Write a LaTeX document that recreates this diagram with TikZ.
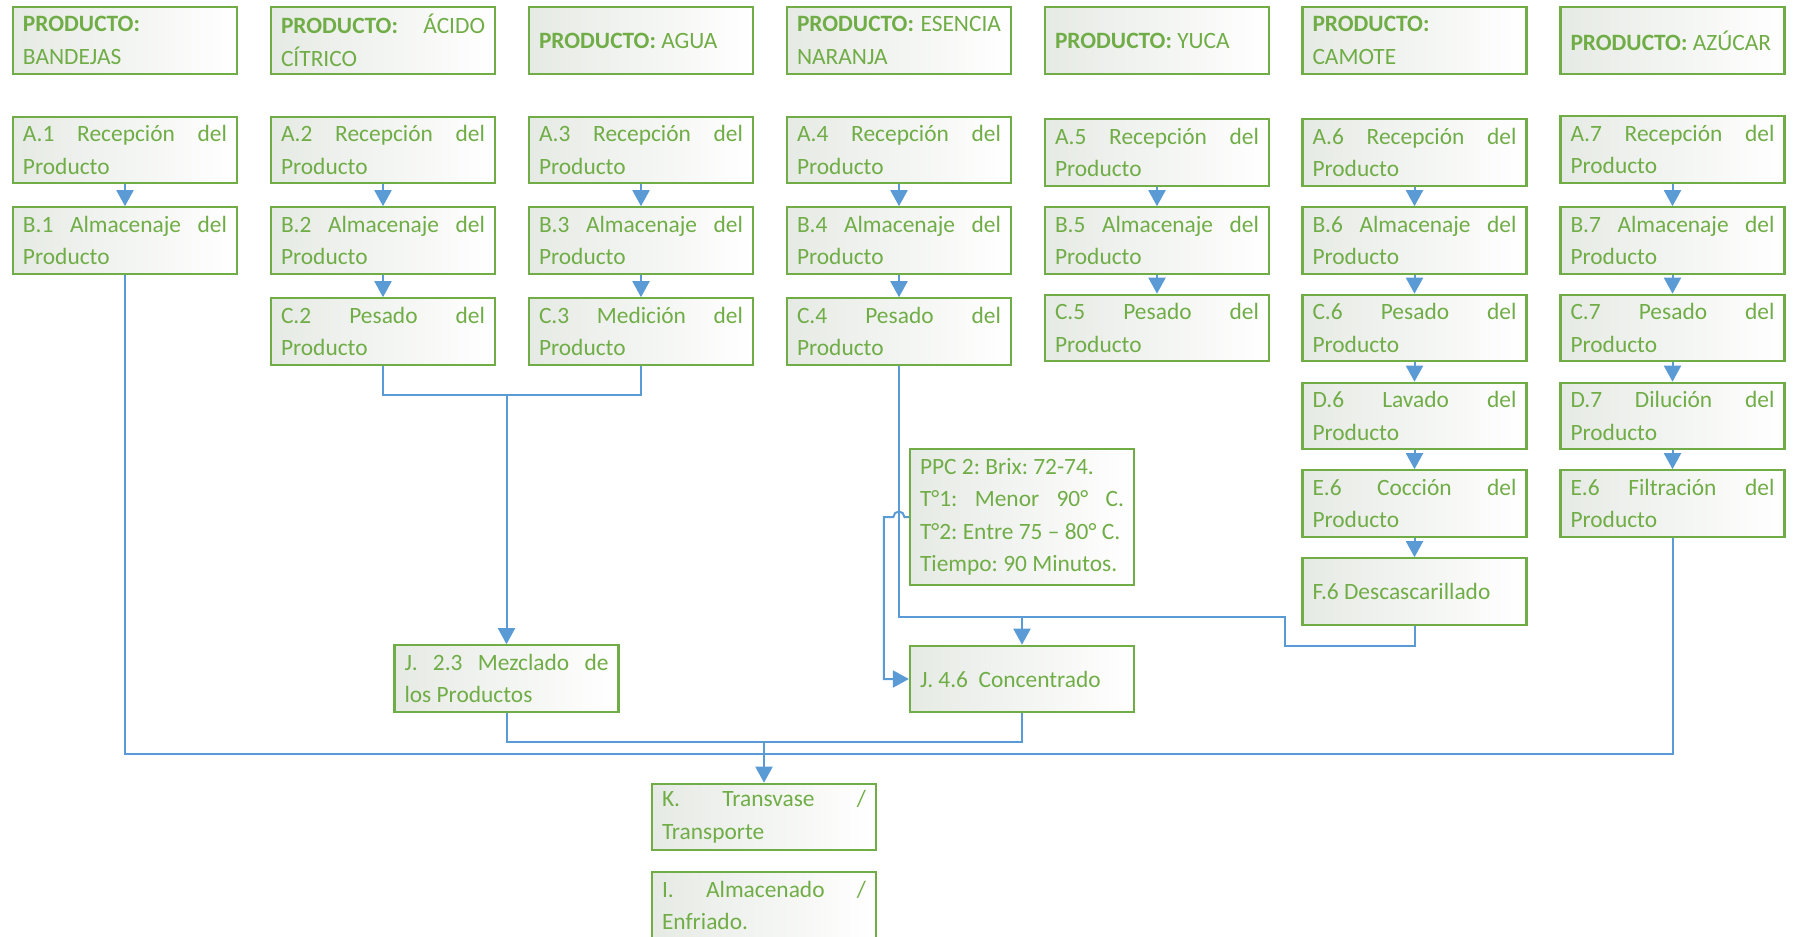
\documentclass[tikz,border=0pt]{standalone}
\usepackage{fontspec}
\setmainfont{Carlito}
\usepackage{tikz}
\usetikzlibrary{arrows.meta, positioning}
\definecolor{boxgreen}{RGB}{112,173,71}
\definecolor{flowblue}{RGB}{91,155,213}
\definecolor{boxshade}{RGB}{230,234,228}
\hyphenpenalty=10000
\exhyphenpenalty=10000
\tolerance=10000
\frenchspacing

\begin{document}
\begin{tikzpicture}[x=0.5pt,y=-0.5pt,>={Triangle[length=8pt,width=8.5pt]},
		proc/.style={draw=boxgreen, line width=1.1pt, left color=boxshade, right color=white,
			text=boxgreen, text width=102pt, inner xsep=5pt, inner ysep=1pt,
			minimum height=33.2pt, align=justify, font=\fontsize{11.7pt}{16.25pt}\selectfont},
		flow/.style={draw=flowblue, line width=1pt}]
			\useasboundingbox (0,0) rectangle (1794,937);
			% product headers
			\node[proc] (h1) at (125,40.5)    {\textbf{PRODUCTO:}\\ BANDEJAS};
			\node[proc] (h2) at (383,40.5)    {\textbf{PRODUCTO:} ÁCIDO CÍTRICO};
			\node[proc] (h3) at (641,40.5)    {\textbf{PRODUCTO:} AGUA};
			\node[proc] (h4) at (899,40.5)    {\textbf{PRODUCTO:} ESENCIA NARANJA};
			\node[proc] (h5) at (1157,40.5)   {\textbf{PRODUCTO:} YUCA};
			\node[proc] (h6) at (1414.5,40.5) {\textbf{PRODUCTO:}\\ CAMOTE};
			\node[proc] (h7) at (1672.5,40.5) {\textbf{PRODUCTO:} AZÚCAR};
			% bandejas
			\node[proc] (a1) at (125,150)   {A.1 Recepción del Producto};
			\node[proc] (b1) at (125,240.5) {B.1 Almacenaje del Producto};
			% acido citrico
			\node[proc] (a2) at (383,150)   {A.2 Recepción del Producto};
			\node[proc] (b2) at (383,240.5) {B.2 Almacenaje del Producto};
			\node[proc] (c2) at (383,331.5) {C.2 Pesado del Producto};
			% agua
			\node[proc] (a3) at (641,150)   {A.3 Recepción del Producto};
			\node[proc] (b3) at (641,240.5) {B.3 Almacenaje del Producto};
			\node[proc] (c3) at (641,331.5) {C.3 Medición del Producto};
			% esencia naranja
			\node[proc] (a4) at (899,150)   {A.4 Recepción del Producto};
			\node[proc] (b4) at (899,240.5) {B.4 Almacenaje del Producto};
			\node[proc] (c4) at (899,331.5) {C.4 Pesado del Producto};
			% yuca
			\node[proc] (a5) at (1157,152.5) {A.5 Recepción del Producto};
			\node[proc] (b5) at (1157,240.5) {B.5 Almacenaje del Producto};
			\node[proc] (c5) at (1157,328)   {C.5 Pesado del Producto};
			% camote
			\node[proc] (a6) at (1414.5,152.5) {A.6 Recepción del Producto};
			\node[proc] (b6) at (1414.5,240.5) {B.6 Almacenaje del Producto};
			\node[proc] (c6) at (1414.5,328)   {C.6 Pesado del Producto};
			\node[proc] (d6) at (1414.5,416)   {D.6 Lavado del Producto};
			\node[proc] (e6) at (1414.5,503.5) {E.6 Cocción del Producto};
			\node[proc] (f6) at (1414.5,591.5) {F.6 Descascarillado};
			% azucar
			\node[proc] (a7) at (1672.5,149.5) {A.7 Recepción del Producto};
			\node[proc] (b7) at (1672.5,240.5) {B.7 Almacenaje del Producto};
			\node[proc] (c7) at (1672.5,328)   {C.7 Pesado del Producto};
			\node[proc] (d7) at (1672.5,416)   {D.7 Dilución del Producto};
			\node[proc] (e7) at (1672.5,503.5) {E.6 Filtración del Producto};
			% mezcla, concentrado y salida
			\node[proc, minimum height=67.9pt] (ppc) at (1022,517)
				{PPC 2: Brix: 72-74.\\ T°1: Menor 90° C.\linebreak T°2: Entre 75 – 80° C.\\ Tiempo: 90 Minutos.};
			\node[proc] (mix)   at (506.5,678.5) {J. 2.3 Mezclado de\linebreak los Productos};
			\node[proc] (conc)  at (1022,679)    {J. 4.6~~Concentrado};
			\node[proc] (trans) at (764,817)     {K. Transvase /\linebreak Transporte};
			\node[proc] (store) at (764,905.25)  {I. Almacenado /\linebreak Enfriado.};
			\coordinate (m3) at ([yshift=-14.5pt]c2.south);
			\coordinate (m4) at ([yshift=14pt]conc.north);
			\coordinate (m5) at ([yshift=20.5pt]trans.north);
			\coordinate (m6) at ([yshift=14.5pt]trans.north);
			\draw[flow,->] (a1) -- (b1);
			\draw[flow,->] (a2) -- (b2);
			\draw[flow,->] (b2) -- (c2);
			\draw[flow,->] (a3) -- (b3);
			\draw[flow,->] (b3) -- (c3);
			\draw[flow,->] (a4) -- (b4);
			\draw[flow,->] (b4) -- (c4);
			\draw[flow,->] (a5) -- (b5);
			\draw[flow,->] (b5) -- (c5);
			\draw[flow,->] (a6) -- (b6);
			\draw[flow,->] (b6) -- (c6);
			\draw[flow,->] (c6) -- (d6);
			\draw[flow,->] (d6) -- (e6);
			\draw[flow,->] (e6) -- (f6);
			\draw[flow,->] (a7) -- (b7);
			\draw[flow,->] (b7) -- (c7);
			\draw[flow,->] (c7) -- (d7);
			\draw[flow,->] (d7) -- (e7);
			\draw[flow] (c2.south) -- (m3) -| (c3.south);
			\draw[flow,->] (m3 -| mix.north) -- (mix);
			\draw[flow] (c4.south) |- (m4) -- ++(131.5pt,0) -- ++(0,-14.5pt) -| (f6.south);
			\draw[flow,->] (m4) -- (conc);
			\draw[flow,->] (ppc.west) -- ++(-2.25pt,0) arc[start angle=0, end angle=180, radius=2.75pt]
				-- ++(-4.75pt,0) |- (conc.west);
			\draw[flow] (mix.south) |- (m5) -| (conc.south);
			\draw[flow] (b1.south) |- (m6) -| (e7.south);
			\draw[flow,->] (m5) -- (trans);
		\end{tikzpicture}
\end{document}
